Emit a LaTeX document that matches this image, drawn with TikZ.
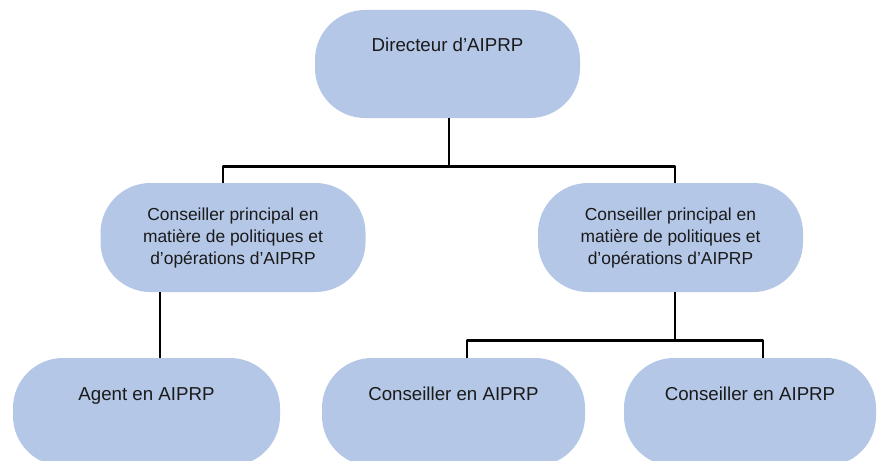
\documentclass[tikz,border=0pt]{standalone}
\usepackage{fontspec}
\setmainfont{Liberation Sans}
\definecolor{boxblue}{HTML}{B4C7E7}
\definecolor{txtgray}{HTML}{1A1A1A}
\begin{document}
\begin{tikzpicture}[x=1pt,y=-1pt,
  box/.style={draw=none, fill=boxblue, rounded corners=50pt, text=txtgray,
    inner xsep=0pt, inner ysep=0pt},
  onebox/.style={box, minimum width=#1, text height=42pt, text depth=66pt,
    font=\fontsize{18.7}{22}\selectfont},
  multibox/.style={box, minimum width=265pt, minimum height=109pt, align=center,
    font=\fontsize{17.4}{22}\selectfont},
  conn/.style={draw=black, line width=2.8pt, line join=round}]
\useasboundingbox (0,0) rectangle (877,460);
\fill[white] (0,0) rectangle (877,460);

\node[onebox=265pt] (top) at (447.5,64) {Directeur d’AIPRP};
\node[multibox] (L) at (233,237.5) {Conseiller principal en\\matière de politiques et\\d’opérations d’AIPRP};
\node[multibox] (R) at (670.5,237.5) {Conseiller principal en\\matière de politiques et\\d’opérations d’AIPRP};
\node[onebox=267pt] (A) at (146.5,412) {Agent en AIPRP};
\node[onebox=263pt] (B) at (453.5,412) {Conseiller en AIPRP};
\node[onebox=252pt] (C) at (750,412) {Conseiller en AIPRP};

\draw[conn] ([xshift=1.5pt]top.south) -- ++(0,48) coordinate (j1);
\draw[conn] ([xshift=-10pt]L.north) |- (j1) -| ([xshift=4.5pt]R.north);
\draw[conn] ([xshift=-73pt]L.south) -- ([xshift=13.5pt]A.north);
\draw[conn] ([xshift=4.5pt]R.south) -- ++(0,48) coordinate (j2);
\draw[conn] ([xshift=13.5pt]B.north) |- (j2) -| ([xshift=13pt]C.north);
\end{tikzpicture}
\end{document}
